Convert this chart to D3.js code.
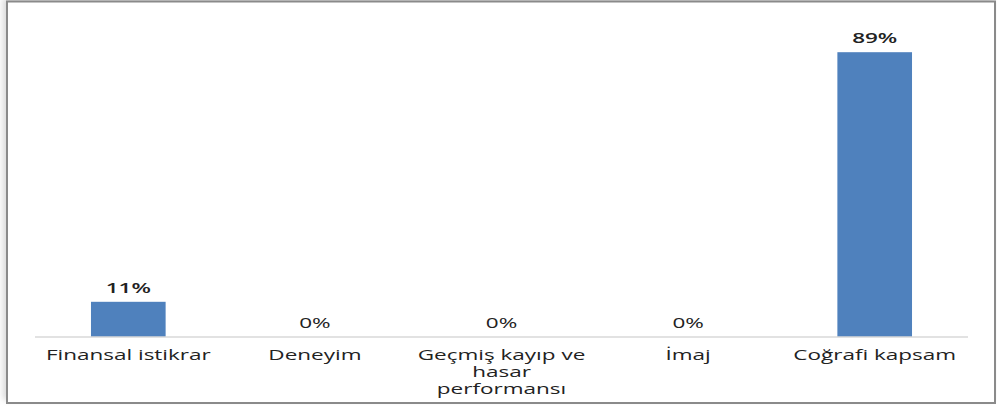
<!DOCTYPE html>
<html>
<head>
<meta charset="utf-8">
<script src="https://cdn.jsdelivr.net/npm/d3@7/dist/d3.min.js"></script>
<style>
  html, body { margin: 0; padding: 0; background: #fff; }
  svg { display: block; }
  text { font-family: "Open Sans", "Noto Sans", sans-serif; fill: #222; }
</style>
</head>
<body>
<svg id="chart" width="997" height="407"></svg>
<script>
// Survey shares per selection criterion
const categories = ["Finansal istikrar", "Deneyim", "Geçmiş kayıp ve hasar performansı", "İmaj", "Coğrafi kapsam"];
const values = [0.11, 0, 0, 0, 0.89];
const valueLabels = ["11%", "0%", "0%", "0%", "89%"];

const W = 997, H = 407;
const margin = { left: 35, right: 29, top: 17, bottom: 70 };
const stretch = 1.5;         // horizontal widening applied to every label
const fontSize = 15;
const lineStep = 17;
const wrapWidth = 172;

const svg = d3.select("#chart");

// soft shadow behind the frame
const defs = svg.append("defs");
const f = defs.append("filter").attr("id", "shadow").attr("x", "-5%").attr("y", "-5%").attr("width", "110%").attr("height", "110%");
f.append("feGaussianBlur").attr("stdDeviation", 3);
svg.append("rect")
  .attr("x", 3).attr("y", -2).attr("width", 990).attr("height", 402)
  .attr("fill", "#d8d8d8").attr("filter", "url(#shadow)");
svg.append("rect")
  .attr("x", 7).attr("y", 1.5).attr("width", 988).attr("height", 401.5)
  .attr("fill", "#fff").attr("stroke", "#8a8a8a").attr("stroke-width", 2);

const x = d3.scaleBand()
  .domain(categories)
  .range([margin.left, W - margin.right])
  .paddingInner(0.6).paddingOuter(0.3);

const y = d3.scaleLinear().domain([0, 1]).range([H - margin.bottom, margin.top]);

const data = categories.map((c, i) => ({ c, v: values[i], label: valueLabels[i] }));

// bars
svg.append("g").selectAll("rect").data(data).join("rect")
  .attr("x", d => x(d.c))
  .attr("y", d => y(d.v))
  .attr("width", x.bandwidth())
  .attr("height", d => y(0) - y(d.v))
  .attr("fill", "#4f81bd");

// category axis line (no ticks)
const xAxis = d3.axisBottom(x).tickSize(0).tickFormat("");
const gx = svg.append("g").attr("transform", `translate(0,${y(0)})`).call(xAxis);
gx.select(".domain").attr("stroke", "#d9d9d9").attr("stroke-width", 1.5)
  .attr("d", `M${margin.left},0H${W - margin.right}`);

// helper: horizontally widened text centered at cx
function stretchedText(g, cx, cy, str, weight) {
  return g.append("text")
    .attr("transform", `translate(${cx},${cy}) scale(${stretch},1)`)
    .attr("text-anchor", "middle")
    .attr("font-size", fontSize)
    .attr("font-weight", weight)
    .text(str);
}

// value labels above bars
const gl = svg.append("g");
data.forEach(d => {
  stretchedText(gl, x(d.c) + x.bandwidth() / 2, y(d.v) - 9, d.label, d.v > 0 ? 600 : 400);
});

// category labels with word wrapping
const gc = svg.append("g");
const probe = svg.append("text").attr("font-size", fontSize).attr("visibility", "hidden");
function measure(s) { probe.text(s); return probe.node().getComputedTextLength() * stretch; }
data.forEach(d => {
  const words = d.c.split(" ");
  const lines = [];
  let cur = "";
  words.forEach(w => {
    const test = cur ? cur + " " + w : w;
    if (cur && measure(test) > wrapWidth) { lines.push(cur); cur = w; }
    else cur = test;
  });
  if (cur) lines.push(cur);
  lines.forEach((ln, k) => {
    stretchedText(gc, x(d.c) + x.bandwidth() / 2, y(0) + 23 + k * lineStep, ln, 400);
  });
});
probe.remove();
</script>
</body>
</html>
